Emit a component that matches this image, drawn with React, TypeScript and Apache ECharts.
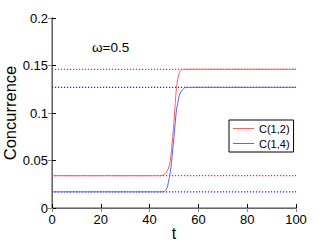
import React, { useEffect, useRef } from "react";
import * as echarts from "echarts";

const tValues12 = [0, 44, 45, 46, 47, 48, 48.5, 49, 49.5, 50, 50.5, 51, 51.5, 52, 52.5, 53, 54, 100];
const c12 = [0.034, 0.034, 0.0342, 0.0355, 0.038, 0.044, 0.05, 0.062, 0.075, 0.09, 0.11, 0.126, 0.135, 0.141, 0.144, 0.1455, 0.146, 0.146];
const tValues14 = [0, 45, 46, 47, 47.7, 48.5, 49, 49.5, 50, 50.5, 51, 51.5, 52, 53, 54, 55, 100];
const c14 = [0.017, 0.017, 0.0175, 0.02, 0.027, 0.038, 0.048, 0.062, 0.075, 0.09, 0.103, 0.11, 0.117, 0.123, 0.126, 0.127, 0.127];
const refRed = [0.034, 0.146];
const refBlue = [0.017, 0.127];
const tRange = [0, 100];
const xTicks = [0, 20, 40, 60, 80, 100];
const yTicks = [0, 0.05, 0.1, 0.15, 0.2];
const seriesNames = ["C(1,2)", "C(1,4)"];
const annotation = "ω=0.5";

const FONT = "Liberation Sans, Arial, Helvetica, sans-serif";
const LINE_ICON = "path://M0,0 L21,0 L21,1 L0,1 Z";

export default function App() {
  const ref = useRef<HTMLDivElement>(null);
  useEffect(() => {
    if (!ref.current) return;
    const chart = echarts.init(ref.current, undefined, { renderer: "svg" });
    const dotted = (vals: number[], color: string) =>
      vals.map((v) => ({
        type: "line",
        data: tRange.map((t) => [t, v]),
        symbol: "none",
        silent: true,
        lineStyle: { color, width: 1.2, type: [1.2, 1.8] },
        z: 2,
      }));
    chart.setOption({
      animation: false,
      textStyle: { fontFamily: FONT },
      grid: { left: 52, top: 18, right: 31, bottom: 35, containLabel: false, outerBoundsMode: "none" },
      legend: {
        data: [
          { name: seriesNames[0], icon: LINE_ICON, itemStyle: { color: "#ff6060" } },
          { name: seriesNames[1], icon: LINE_ICON, itemStyle: { color: "#6060ff" } },
        ],
        orient: "vertical",
        left: 229,
        top: 120,
        padding: [3, 4, 3, 4],
        itemGap: 4,
        itemWidth: 21,
        itemHeight: 11,
        itemTextGap: 3,
        borderColor: "#000",
        borderWidth: 1,
        backgroundColor: "#fff",
        textStyle: { fontSize: 11, color: "#000", fontFamily: FONT },
      },
      xAxis: [
        {
          type: "value",
          min: xTicks[0],
          max: xTicks[xTicks.length - 1],
          interval: 20,
          name: "t",
          nameLocation: "middle",
          nameGap: 17,
          nameMoveOverlap: false,
          nameTextStyle: { fontSize: 16, color: "#000", fontFamily: FONT },
          axisLine: { lineStyle: { color: "#000" } },
          axisTick: { inside: true, length: 4, lineStyle: { color: "#000" } },
          axisLabel: { fontSize: 13, color: "#000", margin: 5, fontFamily: FONT },
          splitLine: { show: false },
        },
        {
          type: "value",
          position: "top",
          min: xTicks[0],
          max: xTicks[xTicks.length - 1],
          interval: 20,
          axisLine: { lineStyle: { color: "#888", width: 1.5 } },
          axisTick: { inside: true, length: 4, lineStyle: { color: "#888" } },
          axisLabel: { show: false },
          splitLine: { show: false },
        },
      ],
      yAxis: [
        {
          type: "value",
          min: yTicks[0],
          max: yTicks[yTicks.length - 1],
          interval: 0.05,
          name: "Concurrence",
          nameLocation: "middle",
          nameGap: 34,
          nameMoveOverlap: false,
          nameTextStyle: { fontSize: 16.5, color: "#000", fontFamily: FONT },
          axisLine: { lineStyle: { color: "#000" } },
          axisTick: { inside: true, length: 4, lineStyle: { color: "#000" } },
          axisLabel: { fontSize: 13, color: "#000", margin: 4, fontFamily: FONT },
          splitLine: { show: false },
        },
        {
          type: "value",
          position: "right",
          min: yTicks[0],
          max: yTicks[yTicks.length - 1],
          interval: 0.05,
          axisLine: { lineStyle: { color: "#888", width: 1.5 } },
          axisTick: { inside: true, length: 4, lineStyle: { color: "#888" } },
          axisLabel: { show: false },
          splitLine: { show: false },
        },
      ],
      graphic: [
        {
          type: "text",
          left: 92,
          top: 40,
          style: { text: annotation, fontSize: 13.5, fill: "#000", fontFamily: FONT },
        },
      ],
      series: [
        ...dotted(refRed, "#ff2020"),
        ...dotted(refBlue, "#2020ff"),
        {
          name: seriesNames[0],
          type: "line",
          data: tValues12.map((t, i) => [t, c12[i]]),
          symbol: "none",
          smooth: 0.3,
          lineStyle: { color: "#ff6060", width: 1 },
          itemStyle: { color: "#ff6060" },
          z: 3,
        },
        {
          name: seriesNames[1],
          type: "line",
          data: tValues14.map((t, i) => [t, c14[i]]),
          symbol: "none",
          smooth: 0.3,
          lineStyle: { color: "#6060ff", width: 1 },
          itemStyle: { color: "#6060ff" },
          z: 3,
        },
      ],
    });
    return () => chart.dispose();
  }, []);
  return (
    <div
      ref={ref}
      style={{ position: "absolute", left: 0, top: 0, width: 327, height: 243, background: "#fff" }}
    />
  );
}
